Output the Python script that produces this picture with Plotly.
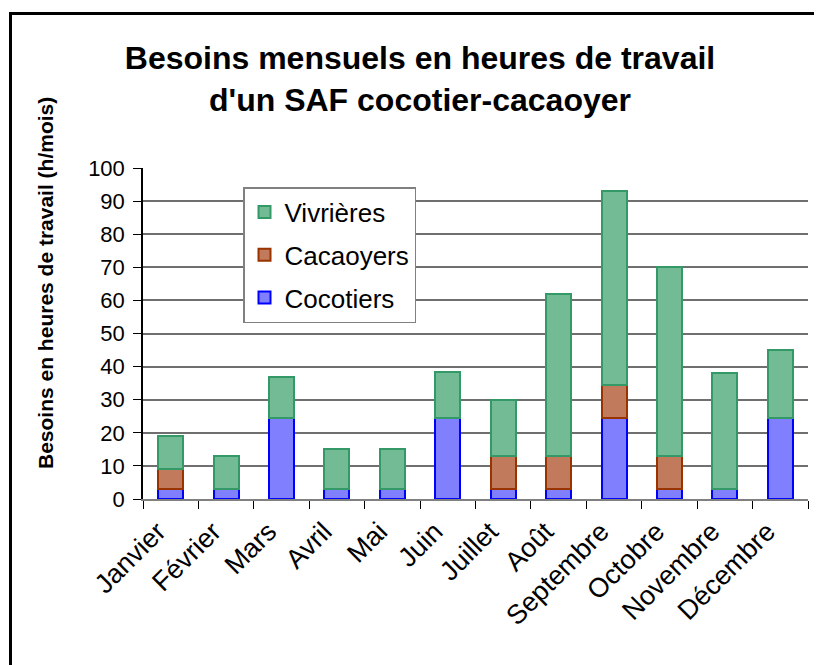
import plotly.graph_objects as go

months = ["Janvier", "Février", "Mars", "Avril", "Mai", "Juin", "Juillet",
          "Août", "Septembre", "Octobre", "Novembre", "Décembre"]
cocotiers = [3, 3, 24.5, 3, 3, 24.5, 3, 3, 24.5, 3, 3, 24.5]
cacaoyers = [6, 0, 0, 0, 0, 0, 10, 10, 10, 10, 0, 0]
vivrieres = [10, 10, 12.5, 12, 12, 14, 17, 49, 58.5, 57, 35, 20.5]

FONT = "Liberation Sans, Arial, sans-serif"

# page has an 8px body margin: figure coords = screen coords - 8
W, H = 814, 657
L, R, T, B = 135, 14, 160, 166
PW, PH = W - L - R, H - T - B


def px(x):
    return (x - 8 - L) / PW


def py(y):
    return (H - B - (y - 8)) / PH


fig = go.Figure()
fig.add_trace(go.Bar(x=months, y=cocotiers, name="Cocotiers", legendgroup="c", legendrank=3,
                     marker=dict(color="#8080ff", line=dict(color="#0000ff", width=2))))
fig.add_trace(go.Bar(x=months, y=cacaoyers, name="Cacaoyers", legendgroup="b", legendrank=2,
                     marker=dict(color="#c27a5c", line=dict(color="#993300", width=2))))
fig.add_trace(go.Bar(x=months, y=vivrieres, name="Vivrières", legendgroup="a", legendrank=1,
                     marker=dict(color="#72bb95", line=dict(color="#339966", width=2))))

fig.update_layout(
    width=W, height=H,
    barmode="stack", bargap=0.55,
    plot_bgcolor="white", paper_bgcolor="white",
    margin=dict(l=L, r=R, t=T, b=B),
    font=dict(family=FONT, color="black"),
    showlegend=True,
    title=dict(text="<b>Besoins mensuels en heures de travail<br>d'un SAF cocotier-cacaoyer</b>",
               x=(420 - 8) / W, xanchor="center", y=1 - 61 / H, yanchor="middle",
               font=dict(size=32, family=FONT, color="black")),
    legend=dict(x=px(243), y=py(187), xanchor="left", yanchor="top",
                traceorder="grouped", tracegroupgap=6,
                bgcolor="white", bordercolor="#808080", borderwidth=1.5,
                font=dict(size=26, family=FONT, color="black")),
    xaxis=dict(tickangle=-45, tickfont=dict(size=27), showline=True, linecolor="#808080",
               linewidth=2, ticks="outside", tickson="boundaries", ticklen=8,
               tickcolor="black", showgrid=False, ticklabelstandoff=4,
               ticklabelshift=-13),
    yaxis=dict(range=[0, 100], dtick=10, tickfont=dict(size=22), showline=True,
               linecolor="black", linewidth=1.5, ticks="outside", ticklen=8,
               tickcolor="black", showgrid=True, gridcolor="#6f6f6f", gridwidth=1.5,
               zeroline=False, ticklabelstandoff=4),
    annotations=[dict(text="<b>Besoins en heures de travail (h/mois)</b>",
                      xref="paper", yref="paper", x=px(45), y=py(283),
                      textangle=-90, showarrow=False, xanchor="center", yanchor="middle",
                      font=dict(size=21, family=FONT, color="black"))],
    shapes=[dict(type="rect", xref="paper", yref="paper",
                 x0=px(10.5), x1=px(850), y0=py(13.5), y1=py(700),
                 line=dict(color="black", width=3), fillcolor="rgba(0,0,0,0)", layer="above")],
)

fig.write_html("out.html")
